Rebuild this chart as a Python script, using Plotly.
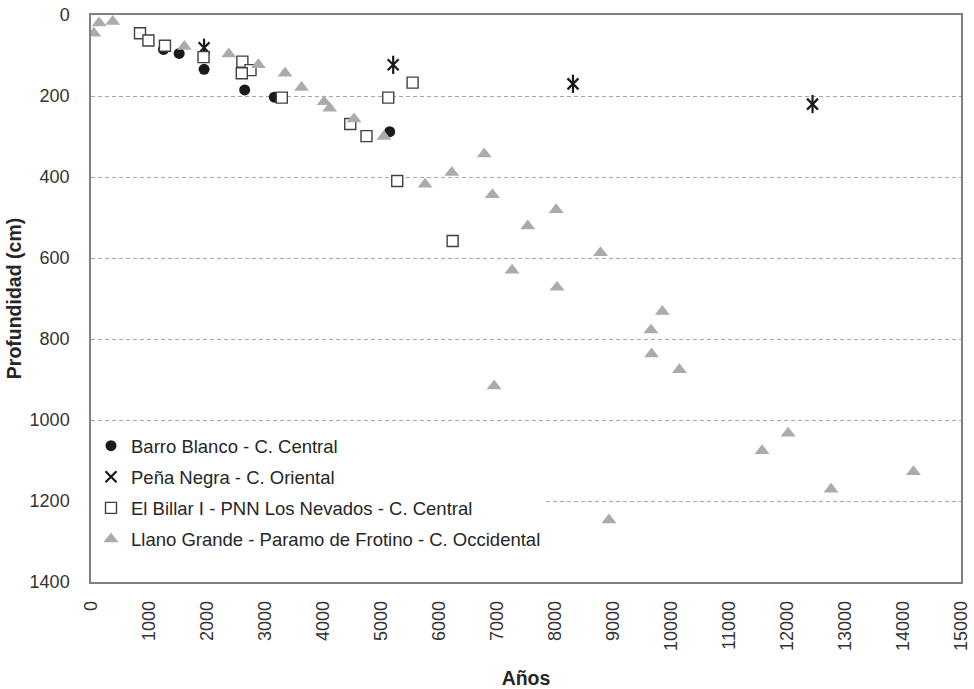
import plotly.graph_objects as go

# ---- data (years BP, depth cm) ----
barro_x = [1250, 1520, 1950, 2650, 3160, 5150]
barro_y = [85, 95, 134, 185, 203, 288]

pena_x = [1950, 5210, 8310, 12440]
pena_y = [81, 123, 170, 220]

billar_x = [845, 990, 1275, 1940, 2610, 2750, 2600, 3290, 4470, 4750, 5125, 5545, 5280, 6235]
billar_y = [45, 63, 76, 104, 115, 136, 144, 204, 269, 299, 204, 167, 410, 558]

llano_x = [50, 140, 375, 1610, 2375, 2885, 3345, 3630, 4020, 4115, 4535, 5050, 5760,
           6780, 6220, 6920, 8020, 7530, 8785, 7260, 8035, 9850, 9655, 9665, 10145,
           6950, 8930, 12020, 11570, 12760, 14180]
llano_y = [45, 20, 16, 78, 96, 123, 144, 179, 214, 230, 257, 300, 418,
           343, 389, 444, 481, 521, 587, 630, 672, 732, 778, 837, 876,
           916, 1247, 1033, 1076, 1171, 1128]

names = ["Barro Blanco - C. Central",
         "Peña Negra - C. Oriental",
         "El Billar I - PNN Los Nevados - C. Central",
         "Llano Grande - Paramo de Frotino - C. Occidental"]

x_ticks = list(range(0, 15001, 1000))
y_ticks = list(range(0, 1401, 200))

FONT = "Liberation Sans, Arial, sans-serif"

fig = go.Figure()
fig.add_trace(go.Scatter(x=barro_x, y=barro_y, mode="markers", name=names[0],
                         legendgroup="a",
                         marker=dict(symbol="circle", size=11, color="#1a1a1a",
                                     line=dict(width=0))))
fig.add_trace(go.Scatter(x=pena_x, y=pena_y, mode="markers", name=names[1],
                         legendgroup="b",
                         marker=dict(symbol="x-thin-open", size=11, color="#1a1a1a",
                                     line=dict(width=2.2, color="#1a1a1a"))))
fig.add_trace(go.Scatter(x=pena_x, y=pena_y, mode="markers", name=names[1],
                         legendgroup="b", showlegend=False,
                         marker=dict(symbol="line-ns-open", size=13, color="#1a1a1a",
                                     line=dict(width=2.2, color="#1a1a1a"))))
fig.add_trace(go.Scatter(x=billar_x, y=billar_y, mode="markers", name=names[2],
                         legendgroup="c",
                         marker=dict(symbol="square", size=11, color="white",
                                     line=dict(width=1.4, color="#404040"))))
fig.add_trace(go.Scatter(x=llano_x, y=llano_y, mode="markers", name=names[3],
                         legendgroup="d",
                         marker=dict(symbol="triangle-up", size=13, color="#ababab",
                                     line=dict(width=0))))

fig.update_layout(
    width=974, height=689,
    margin=dict(l=91, r=13, t=15, b=107),
    paper_bgcolor="white", plot_bgcolor="white",
    font=dict(family=FONT, size=18.5, color="#262626"),
    legend=dict(x=0.0, y=0.273, xanchor="left", yanchor="top",
                bgcolor="white", borderwidth=0,
                traceorder="grouped", tracegroupgap=4,
                font=dict(family=FONT, size=18.5, color="#262626"),
                itemwidth=30),
    showlegend=True,
)
fig.update_xaxes(range=[0, 15000], tickvals=x_ticks, ticktext=[str(v) for v in x_ticks],
                 tickangle=-90, showgrid=False, zeroline=False, automargin=False,
                 showline=True, mirror=True, linecolor="#808080", linewidth=1.5,
                 ticks="", ticklabelstandoff=10,
                 tickfont=dict(family=FONT, size=18, color="#333333"),
                 title=dict(text="<b>Años</b>", standoff=26,
                            font=dict(family=FONT, size=19.5, color="#262626")))
fig.update_yaxes(range=[1400, 0], tickvals=y_ticks, ticktext=[str(v) for v in y_ticks],
                 showgrid=True, gridcolor="#a6a6a6", gridwidth=1, griddash="4px,3px",
                 zeroline=False, automargin=False,
                 showline=True, mirror=True, linecolor="#808080", linewidth=1.5,
                 ticks="", ticklabelstandoff=16,
                 tickfont=dict(family=FONT, size=18, color="#333333"),
                 title=dict(text="<b>Profundidad (cm)</b>", standoff=3,
                            font=dict(family=FONT, size=19.5, color="#262626")))

fig.write_html("out.html")
